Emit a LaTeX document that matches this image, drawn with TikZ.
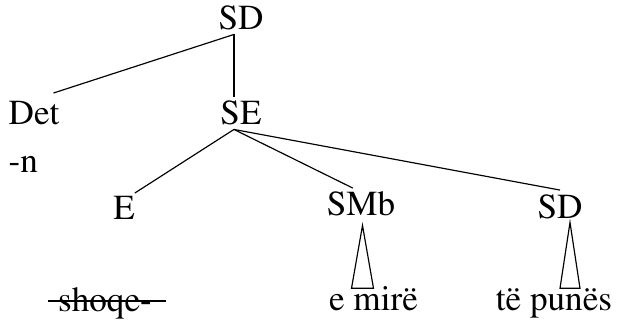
\documentclass[tikz,border=0pt]{standalone}
\usepackage[T1]{fontenc}
\renewcommand{\rmdefault}{ptm}
\usepackage{tikz}
\usetikzlibrary{calc}

\begin{document}
\begin{tikzpicture}[x=.3cm,y=.3cm,line width=1pt,
    every node/.style={font=\fontsize{30}{34}\selectfont,inner sep=3pt},
    cat/.style={anchor=base},
    leaf/.style={anchor=base,text height=15pt}]
        \useasboundingbox (0,0) rectangle (62,32.1);
        % labels
        \node[cat] (sdtop) at (24.1,29.1) {SD};
        \node[cat] (det) at (3.4,19.6) {Det};
        \node[cat,anchor=base west] (negn) at ($(det.base west)+(0,-4.8)$) {-n};
        \node[cat] (se) at (24.1,19.6) {SE};
        \node[cat] (e) at (12.4,10.1) {E};
        \node[cat] (smb) at (36.1,10.5) {SMb};
        \node[cat] (sdsub) at (56.0,10.3) {SD};
        \node[leaf] (shoqe) at (10.5,1.0) {shoqe-};
        \node[leaf] (emire) at (37.35,1.1) {e mirë};
        \node[leaf] (tepunes) at (55.4,1.1) {të punës};
        % branches
        \draw ([xshift=-6pt]sdtop.south) -- ($(det.north east)+(-1,.5)$);
        \draw ([xshift=-6pt]sdtop.south) -- ([xshift=-6pt]se.north);
        \draw ([xshift=-6pt]se.south) -- ($(e.north east)+(-.4,0)$);
        \draw ([xshift=-6pt]se.south) -- ([xshift=-7pt]smb.north);
        \draw ([xshift=-6pt]se.south) -- (sdsub.north);
        % triangles over the phrases
        \coordinate (tipa) at ($(smb.south)+(.15,-.5)$);
        \coordinate (tipb) at ($(sdsub.south)+(1,0)$);
        \draw (tipa) -- ($(tipa |- emire.north)+(-1.1,0)$) -- ($(tipa |- emire.north)+(1.1,0)$) -- cycle;
        \draw (tipb) -- ($(tipb |- tepunes.north)+(-1,0)$) -- ($(tipb |- tepunes.north)+(1,0)$) -- cycle;
        % struck out word
        \draw[shorten <=-5pt,shorten >=-9pt] ([yshift=8.5pt]shoqe.base west) -- ([yshift=8.5pt]shoqe.base east);
      \end{tikzpicture}
\end{document}
